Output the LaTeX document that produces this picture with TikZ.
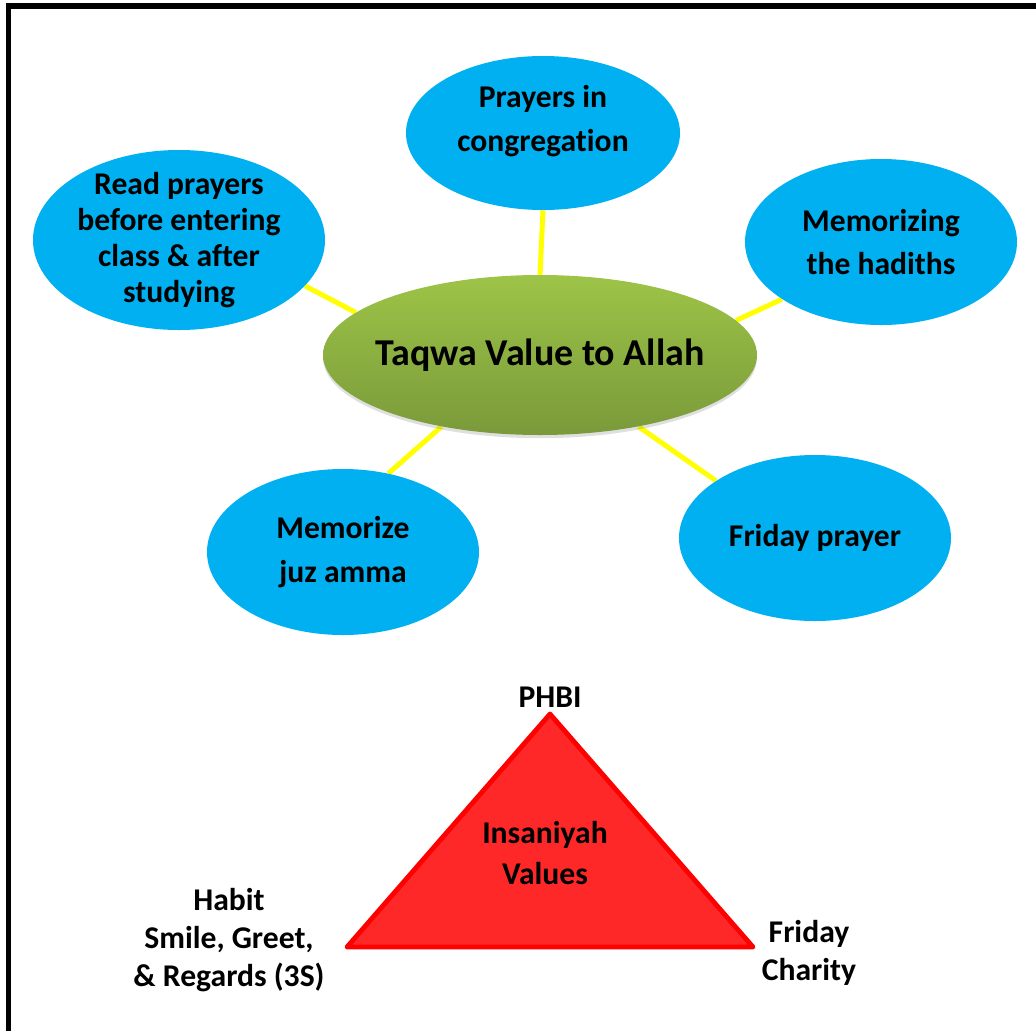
\documentclass[tikz,border=0pt]{standalone}
\usepackage{fontspec}
\setmainfont{Carlito}[Ligatures=NoCommon]
\usetikzlibrary{shapes.geometric,shadows,backgrounds}
\definecolor{skyblue}{HTML}{00B0F0}
\definecolor{leafgreen}{HTML}{9DC447}
\definecolor{mossgreen}{HTML}{7A9A3A}
\definecolor{spokeyellow}{HTML}{FFFF00}
\definecolor{trired}{HTML}{FF2828}

\begin{document}
\begin{tikzpicture}[
	bubble/.style={ellipse,fill=skyblue,inner sep=0pt,align=center,
		minimum width=6.8cm,minimum height=4.15cm,
		font=\fontsize{22.5}{31}\selectfont\bfseries},
	hub/.style={ellipse,top color=leafgreen,bottom color=mossgreen,draw=none,
		inner xsep=-0.8cm,inner ysep=0pt,minimum width=10.85cm,minimum height=4cm,
		drop shadow={shadow xshift=0pt,shadow yshift=-0.08cm,opacity=0.25},
		font=\fontsize{27}{32}\selectfont\bfseries},
	spoke/.style={draw=spokeyellow,line width=0.125cm},
	caption/.style={align=center,font=\fontsize{22.5}{27}\selectfont\bfseries}
	]
	\useasboundingbox (0,0) rectangle (25.9,-25.775);
	\draw[line width=0.13cm] (25.9,-0.15) -| (0.2125,-25.775);

	% taqwa map
	\node[hub] (taqwa) at (13.5,-8.875) {\raisebox{-0.1cm}{Taqwa Value to Allah}};
	\node[bubble,minimum width=6.85cm,minimum height=3.85cm,
		label={[align=center,font=\fontsize{22.5}{31}\selectfont\bfseries,yshift=0.3cm]center:Prayers in\\congregation}] (congr) at (13.575,-3.325) {};
	\node[bubble,minimum width=7.3cm,minimum height=4.5cm,inner ysep=-0.3cm,
		font=\fontsize{22.5}{25.6}\selectfont\bfseries] (read) at (4.475,-6.0) {Read prayers\\before entering\\class \& after\\studying};
	\node[bubble] (hadith) at (22.025,-6.05) {Memorizing\\the hadiths};
	\node[bubble] (juz) at (8.575,-13.8) {Memorize\\juz amma};
	\node[bubble] (friday) at (20.375,-13.45) {Friday prayer};

	\begin{scope}[on background layer]
		\draw[spoke] (congr.south) -- (taqwa.north);
		\draw[spoke] (read.-20) -- (taqwa.167);
		\draw[spoke] (hadith.210) -- (taqwa.10);
		\draw[spoke] (juz.60) -- (taqwa.216);
		\draw[spoke] (friday.150) -- (taqwa.-36);
	\end{scope}

	% insaniyah triangle
	\coordinate (apex) at (13.75,-17.85);
	\coordinate (baseL) at (8.675,-23.675);
	\coordinate (baseR) at (18.825,-23.675);
	\draw[draw=red,fill=trired,line width=0.12cm,line join=round] (apex) -- (baseL) -- (baseR) -- cycle;
	\node[caption,font=\fontsize{22.5}{28.5}\selectfont\bfseries] (insan) at (13.625,-21.325) {Insaniyah\\Values};
	\node[caption] (phbi) at (13.75,-17.425) {PHBI};
	\node[caption] (habit) at (5.725,-23.5) {Habit\\Smile, Greet,\\\& Regards (3S)};
	\node[caption] (charity) at (20.225,-23.825) {Friday\\Charity};
\end{tikzpicture}
\end{document}
